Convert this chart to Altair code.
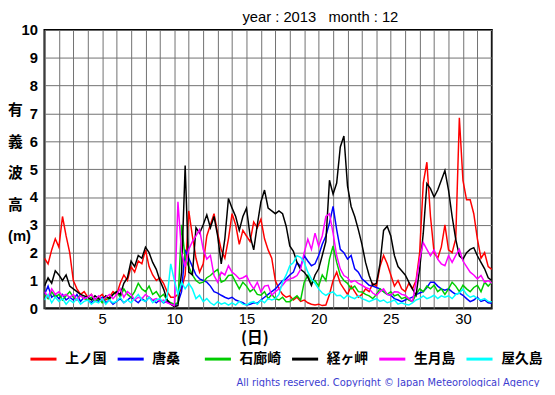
import altair as alt
import pandas as pd

stations = ["上ノ国", "唐桑", "石廊崎", "経ヶ岬", "生月島", "屋久島"]
colors = ["#ff0000", "#0000ff", "#00cc00", "#000000", "#ff00ff", "#00ffff"]
steps_per_day = 4  # values every 6 hours, starting at day 1 00h, ending day 32 00h

kaminokuni = [
    1.8, 1.6, 2.1, 2.5,  2.2, 3.3, 2.6, 2.0,  1.0, 0.7, 0.5, 0.6,  0.4, 0.5, 0.3, 0.4,
    0.5, 0.3, 0.4, 0.6,  0.5, 0.9, 1.2, 1.0,  1.5, 1.3, 1.7, 1.6,  2.1, 1.5, 1.2, 1.0,
    1.1, 0.9, 0.6, 0.4,  0.4, 0.5, 0.7, 1.2,  3.5, 2.6, 1.8, 1.3,  1.6, 2.6, 3.0, 3.4,
    2.7, 2.1, 1.8, 2.5,  3.4, 3.0, 2.3, 2.8,  2.6, 2.4, 3.1, 2.9,  3.2, 2.5, 2.1, 1.8,
    1.0, 0.7, 0.5, 0.4,  0.45, 0.3, 0.4, 0.25, 0.3, 0.2, 0.15, 0.12, 0.15, 0.1, 0.12, 0.5,
    1.0, 1.3, 0.9, 0.7,  0.5, 0.8, 0.6, 0.4,  0.5, 0.7, 0.6, 0.9,  0.8, 1.5, 1.9, 1.6,
    1.2, 0.8, 1.0, 0.7,  0.6, 0.9, 0.7, 1.0,  2.0, 4.5, 5.25, 3.3, 2.0, 1.8, 2.2, 3.0,
    2.1, 2.0, 2.5, 6.85, 4.6, 3.9, 3.9, 3.4,  2.5, 1.8, 2.0, 1.5,  1.4,
]
karakuwa = [
    0.5, 0.8, 0.4, 0.5,  0.35, 0.5, 0.3, 0.4,  0.3, 0.5, 0.25, 0.4,  0.3, 0.2, 0.35, 0.25,
    0.4, 0.2, 0.3, 0.15,  0.25, 0.35, 0.2, 0.3,  0.4, 0.3, 0.2, 0.35,  0.25, 0.4, 0.3, 0.2,
    0.3, 0.2, 0.25, 0.15,  0.1, 0.2, 0.6, 2.1,  1.8, 1.5, 1.2, 1.06,  1.0, 0.94, 0.8, 0.6,
    0.55, 0.47, 0.4, 0.35,  0.4, 0.3, 0.25, 0.2,  0.12, 0.15, 0.2, 0.18,  0.3, 0.4, 0.5, 0.6,
    0.7, 0.85, 1.0, 1.06,  1.2, 1.3, 1.65, 1.5,  1.89, 1.7, 1.53, 1.6,  1.9, 2.3, 2.6, 3.07,
    3.66, 2.83, 2.12, 2.0,  1.77, 1.9, 1.42, 1.3,  1.06, 0.95, 0.83, 0.8,  0.75, 0.7, 0.6, 0.5,
    0.47, 0.35, 0.3, 0.24,  0.3, 0.35, 0.4, 0.5,  0.55, 0.6, 0.75, 0.94,  0.94, 0.8, 0.7, 0.65,
    0.7, 0.59, 0.5, 0.55,  0.47, 0.35, 0.24, 0.3,  0.4, 0.25, 0.3, 0.2,  0.18,
]
irozaki = [
    0.5, 0.35, 0.6, 0.4,  0.5, 0.3, 0.45, 0.6,  0.4, 0.3, 0.5, 0.35,  0.3, 0.4, 0.25, 0.35,
    0.2, 0.4, 0.3, 0.5,  0.6, 0.4, 0.7, 0.5,  0.4, 0.6, 0.9, 0.7,  0.6, 0.8, 0.5, 0.6,
    0.4, 0.5, 0.3, 0.2,  0.15, 0.2, 3.0, 1.8,  1.5, 1.2, 1.0, 0.9,  0.94, 1.1, 1.18, 1.3,
    1.4, 0.94, 1.0, 1.18,  1.2, 0.94, 0.7, 0.94,  0.8, 0.6, 0.7, 0.5,  0.47, 0.6, 0.35, 0.5,
    0.35, 0.3, 0.4, 0.24,  0.24, 0.35, 0.45, 0.3,  0.94, 1.18, 0.9, 1.0,  0.8, 1.2, 1.0, 1.77,
    2.24, 1.65, 1.18, 1.0,  0.9, 0.7, 0.8, 0.6,  0.59, 0.5, 0.45, 0.35,  0.5, 0.7, 0.6, 0.5,
    0.6, 0.45, 0.5, 0.35,  0.4, 0.3, 0.24, 0.5,  0.7, 0.6, 0.8, 0.7,  0.83, 0.6, 0.7, 0.5,
    0.7, 0.94, 0.8, 0.6,  0.83, 0.7, 0.6, 0.75,  0.83, 0.6, 0.94, 0.8,  0.94,
]
kyogamisaki = [
    0.8, 1.1, 0.9, 1.35,  1.2, 1.0, 1.2, 0.8,  0.7, 0.6, 0.5, 0.45,  0.4, 0.3, 0.45, 0.35,
    0.3, 0.45, 0.35, 0.5,  0.6, 0.5, 0.9, 1.1,  1.7, 1.5, 1.9, 1.8,  2.2, 2.0, 1.65, 1.4,
    1.0, 0.7, 0.3, 0.15,  0.06, 0.1, 1.3, 5.13,  1.3, 1.2, 2.9, 2.7,  3.0, 3.36, 2.9, 3.3,
    2.6, 1.6, 2.5, 3.95,  3.6, 3.3, 2.8, 3.3,  3.6, 2.6, 2.1, 3.0,  3.83, 4.25, 3.6, 3.5,
    3.4, 3.5, 3.4, 2.95,  2.24, 2.05, 1.65, 1.4,  1.3, 1.12, 0.82, 1.2,  1.42, 1.9, 2.4, 4.6,
    4.1, 4.5, 5.8, 6.19,  4.4, 3.66, 3.3, 2.83,  2.3, 1.65, 1.18, 0.83,  0.9, 1.6, 2.8, 2.95,
    2.6, 1.9, 1.5, 1.35,  1.2, 0.94, 0.7, 0.47,  1.42, 2.7, 4.48, 4.3,  4.0, 4.25, 4.6, 4.95,
    4.25, 3.3, 2.48, 1.89,  1.77, 2.0, 2.12, 2.18,  1.89, 1.65, 1.42, 1.1,  1.0,
]
ikitsukishima = [
    0.6, 0.4, 0.7, 0.5,  0.6, 0.45, 0.5, 0.4,  0.5, 0.3, 0.45, 0.35,  0.4, 0.5, 0.3, 0.45,
    0.3, 0.4, 0.5, 0.35,  0.5, 0.7, 0.4, 0.6,  0.5, 0.3, 0.4, 0.35,  0.5, 0.4, 0.3, 0.35,
    0.25, 0.3, 0.2, 0.15,  0.1, 3.83, 2.0, 1.5,  2.12, 2.4, 2.6, 2.83,  2.12, 1.77, 1.9, 1.18,
    0.94, 1.3, 1.2, 1.53,  1.3, 1.2, 1.06, 1.1,  1.18, 0.9, 0.7, 0.94,  0.59, 0.8, 0.83, 0.47,
    0.6, 0.7, 0.83, 1.0,  1.06, 1.1, 1.18, 1.4,  2.0, 2.48, 2.12, 2.7,  2.24, 2.6, 3.3, 3.4,
    2.7, 1.89, 1.42, 1.18,  1.1, 0.94, 1.0, 0.9,  0.83, 0.75, 0.7, 0.55,  0.47, 0.6, 0.7, 0.5,
    0.47, 0.6, 0.59, 0.5,  0.47, 0.35, 0.24, 0.94,  1.77, 2.36, 2.12, 1.89,  2.1, 1.77, 1.6, 1.53,
    1.89, 1.65, 1.9, 2.12,  1.7, 1.5, 1.3, 1.2,  1.06, 1.18, 0.94, 1.0,  0.9,
]
yakushima = [
    0.3, 0.5, 0.2, 0.4,  0.25, 0.35, 0.15, 0.3,  0.2, 0.35, 0.15, 0.25,  0.3, 0.15, 0.25, 0.2,
    0.35, 0.15, 0.3, 0.2,  0.25, 0.4, 0.2, 0.3,  0.2, 0.35, 0.5, 0.3,  0.25, 0.4, 0.2, 0.3,
    0.35, 0.2, 0.4, 1.6,  1.0, 0.5, 0.94, 0.7,  0.9, 0.7, 0.35, 0.47,  0.24, 0.35, 0.2, 0.12,
    0.24, 0.15, 0.2, 0.12,  0.2, 0.12, 0.25, 0.15,  0.12, 0.2, 0.24, 0.15,  0.3, 0.2, 0.35, 0.3,
    0.35, 0.5, 0.94, 1.2,  1.53, 1.65, 1.89, 1.83,  1.65, 1.3, 1.06, 0.9,  0.7, 0.55, 0.47, 0.55,
    0.59, 0.45, 0.47, 0.35,  0.47, 0.4, 0.35, 0.45,  0.35, 0.3, 0.24, 0.3,  0.35, 0.25, 0.3, 0.2,
    0.24, 0.3, 0.15, 0.2,  0.15, 0.12, 0.2, 0.3,  0.35, 0.45, 0.35, 0.4,  0.47, 0.35, 0.45, 0.4,
    0.45, 0.35, 0.5, 0.55,  0.7, 0.5, 0.4, 0.45,  0.35, 0.3, 0.35, 0.25,  0.24,
]

series = [kaminokuni, karakuwa, irozaki, kyogamisaki, ikitsukishima, yakushima]
x_ticks = list(range(1, 33))
y_ticks = list(range(0, 11))
title_text = "year : 2013\u00a0\u00a0\u00a0month : 12"
unit_text = "(m)"
copyright_text = "All rights reserved. Copyright © Japan Meteorological Agency"

rows = []
for name, vals in zip(stations, series):
    for i, v in enumerate(vals):
        rows.append({"day": 1 + i / steps_per_day, "station": name, "height": v})
df = pd.DataFrame(rows)

lines = alt.Chart(df).mark_line(strokeWidth=1.5, clip=True).encode(
    x=alt.X("day:Q",
            scale=alt.Scale(domain=[1, 32], nice=False, zero=False),
            axis=alt.Axis(values=x_ticks, labelExpr="datum.value % 5 == 0 ? datum.label : ''",
                          title="(日)", titleX=213, titleY=30, titleBaseline="middle",
                          titleAlign="center", titleFont="Noto Sans CJK JP",
                          titleFontSize=16, titleFontWeight="bold",
                          labelFont="Liberation Sans", labelFontSize=15, labelColor="black",
                          labelPadding=3, labelFlush=False, ticks=False, domain=False,
                          grid=True, gridColor="#707070", gridWidth=1, gridOpacity=1)),
    y=alt.Y("height:Q",
            scale=alt.Scale(domain=[0, 10], nice=False),
            axis=alt.Axis(values=y_ticks, title=["有", "義", "波", "高"],
                          titleAngle=0, titleX=-30, titleY=74, titleAlign="center",
                          titleBaseline="top", titleLineHeight=32,
                          titleFont="Noto Sans CJK JP", titleFontSize=15, titleFontWeight="bold",
                          labelFont="Liberation Sans", labelFontSize=15, labelFontWeight="bold",
                          labelColor="black", labelPadding=7, labelFlush=False,
                          ticks=False, domain=False, grid=True, gridColor="#707070",
                          gridWidth=1, gridOpacity=1)),
    color=alt.Color("station:N",
                    scale=alt.Scale(domain=stations, range=colors),
                    sort=stations,
                    legend=alt.Legend(title=None, orient="none", legendX=-16, legendY=319,
                                      direction="horizontal", columns=6, gridAlign="all",
                                      columnPadding=4.5, symbolType="stroke", symbolSize=700,
                                      symbolStrokeWidth=3, labelFont="Noto Sans CJK JP",
                                      labelFontSize=14, labelFontWeight="bold",
                                      labelColor="black", labelOffset=7)),
)

title_txt = alt.Chart(pd.DataFrame({"text": [title_text]})).mark_text(
    align="center", baseline="middle", font="Liberation Sans", fontSize=15, color="black"
).encode(text="text:N", x=alt.value(280), y=alt.value(-13.5))

unit_txt = alt.Chart(pd.DataFrame({"text": [unit_text]})).mark_text(
    align="left", baseline="middle", font="Liberation Sans", fontSize=15, fontWeight="bold",
    color="black"
).encode(text="text:N", x=alt.value(-37), y=alt.value(209.5))

copyright_txt = alt.Chart(pd.DataFrame({"text": [copyright_text]})).mark_text(
    align="left", baseline="middle", font="DejaVu Sans", fontSize=10, color="#3c3cd0"
).encode(text="text:N", x=alt.value(195), y=alt.value(358.5))

chart = alt.layer(lines, title_txt, unit_txt, copyright_txt).properties(
    width=454, height=282.5,
    autosize=alt.AutoSizeParams(type="none"),
    padding={"left": 37, "top": 19.5, "right": 56, "bottom": 77},
).configure_view(stroke="black", strokeWidth=2)

chart.save("out.html", embed_options={"renderer": "svg", "actions": False})
